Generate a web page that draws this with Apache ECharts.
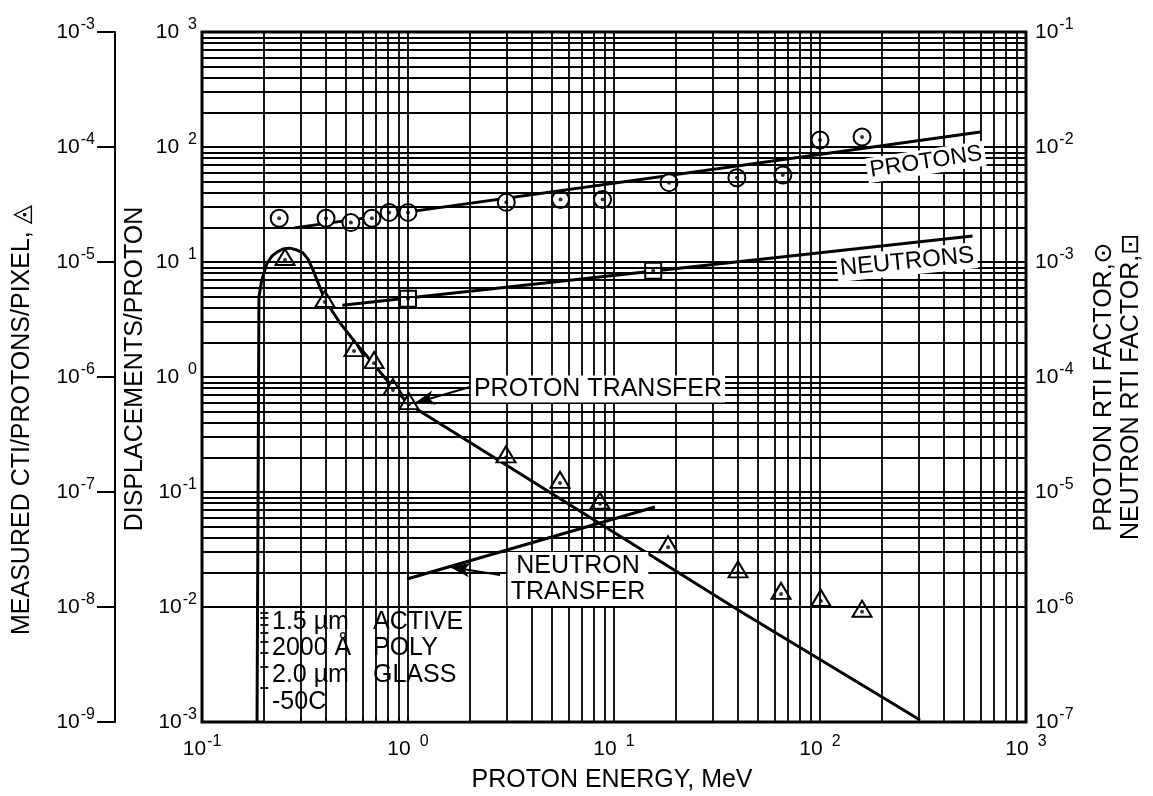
<!DOCTYPE html>
<html>
<head>
<meta charset="utf-8">
<script src="https://cdn.jsdelivr.net/npm/echarts@6/dist/echarts.min.js"></script>
<style>
  html, body { margin: 0; padding: 0; background: #fff; }
  #chart { width: 1153px; height: 796px; }
</style>
</head>
<body>
<div id="chart"></div>
<script>
// ---- measured points -------------------------------------------------
// proton RTI factor (circles, right axis)
const circleEnergy = [0.237, 0.40, 0.528, 0.668, 0.81, 1.0, 3.0, 5.5, 8.8, 18.5, 39.5, 66, 100, 160];
const circleRti    = [2.4e-3, 2.4e-3, 2.2e-3, 2.4e-3, 2.7e-3, 2.7e-3, 3.3e-3, 3.5e-3, 3.5e-3, 4.9e-3, 5.4e-3, 5.7e-3, 1.15e-2, 1.22e-2];
// neutron RTI factor (squares, right axis)
const squareEnergy = [1.0, 15.5];
const squareRti    = [4.8e-4, 8.4e-4];
// measured CTI per proton per pixel (triangles, outer left axis)
const triangleEnergy = [0.253, 0.395, 0.547, 0.684, 0.845, 1.01, 2.99, 5.47, 8.55, 18.3, 40, 64.7, 101, 160];
const triangleCti    = [1.04e-5, 4.5e-6, 1.68e-6, 1.32e-6, 7.7e-7, 5.8e-7, 2.0e-7, 1.2e-7, 7.9e-8, 3.3e-8, 2.0e-8, 1.3e-8, 1.13e-8, 9.1e-9];

// ---- curves (displacements / proton) ---------------------------------
const protonsEnergy = [0.28, 600];
const protonsDisp   = [19.8, 135];
const neutronsEnergy = [0.48, 550];
const neutronsDisp   = [4.2, 16.8];
const pTransferEnergy = [0.185, 0.189, 0.195, 0.207, 0.219, 0.231, 0.247, 0.267, 0.289, 0.309, 0.327, 0.346, 0.395, 0.468, 0.553, 0.668, 0.818, 1.01, 42.3, 306];
const pTransferDisp   = [0.001, 4.96, 6.97, 9.8, 11.3, 12.2, 12.97, 13.2, 12.7, 12.0, 10.6, 8.5, 4.67, 2.95, 2.01, 1.35, 0.869, 0.58, 0.00887, 0.00104];
const nTransferEnergy = [0.99, 15.8];
const nTransferDisp   = [0.0175, 0.0741];

// ---- annotation arrows: [from, to] in (energy, displacements) ---------
const protonArrow  = [[2.0, 0.818], [1.08, 0.594]];
const neutronArrow = [[2.8, 0.019], [1.6, 0.0223]];

// ---- axis ranges -----------------------------------------------------
const energyRange = [0.1, 1000];
const dispRange   = [1e-3, 1e3];
const ctiRange    = [1e-9, 1e-3];
const rtiRange    = [1e-7, 1e-1];
// white inset holding the sample description
const insetEnergy = [0.2, 2];
const insetDisp   = [1e-3, 1e-2];

const FONT = '"Liberation Sans", "DejaVu Sans", Arial, sans-serif';
const pairs = (xs, ys) => xs.map((x, i) => [x, ys[i]]);

// log-paper grid: 1..9 x 10^k in every decade
function decadeLines(lo, hi) {
  const out = [];
  for (let k = Math.round(Math.log10(lo)); k < Math.round(Math.log10(hi)); k++) {
    for (let m = 1; m <= 9; m++) out.push(+(m * Math.pow(10, k)).toPrecision(3));
  }
  out.push(hi);
  return out;
}
const xLines = decadeLines(energyRange[0], energyRange[1]);
const yLines = decadeLines(dispRange[0], dispRange[1]);
const gridLines = xLines.map(v => ({ xAxis: v })).concat(yLines.map(v => ({ yAxis: v })));

// short ticks along the inset's left and bottom edges
const insetTicks = []
  .concat(yLines.filter(v => v > insetDisp[0] && v < insetDisp[1])
    .map(v => [{ coord: [insetEnergy[0] * 0.96, v] }, { coord: [insetEnergy[0] * 1.05, v] }]))
  .concat(xLines.filter(v => v > insetEnergy[0] && v < insetEnergy[1])
    .map(v => [{ coord: [v, insetDisp[0]] }, { coord: [v, insetDisp[0] * 1.1] }]));

function powerLabel(v) {
  const e = Math.round(Math.log10(v));
  return e < 0 ? `{b|10}{s|${e}}` : `{b|10}{p|${e}}`;
}
const powerRich = {
  b: { fontSize: 21, fontFamily: FONT, color: '#000', lineHeight: 30 },
  s: { fontSize: 16, fontFamily: FONT, color: '#000', verticalAlign: 'top', lineHeight: 15, padding: [0, 0, 0, 1] },
  p: { fontSize: 16, fontFamily: FONT, color: '#000', verticalAlign: 'top', lineHeight: 15, padding: [0, 0, 0, 9] }
};

function txt(x, y, text, style, extra) {
  return Object.assign({
    type: 'text', x: x, y: y, z: 100,
    style: Object.assign({ text: text, fill: '#000', font: '25px ' + FONT, align: 'center', verticalAlign: 'middle' }, style || {})
  }, extra || {});
}
const boxed = { backgroundColor: '#fff', padding: [1, 3] };

const chart = echarts.init(document.getElementById('chart'));
chart.setOption({
  animation: false,
  backgroundColor: '#fff',
  grid: { left: 202, right: 127, top: 32, bottom: 74, show: true, borderColor: '#000', borderWidth: 3, backgroundColor: 'transparent' },
  xAxis: {
    type: 'log', logBase: 10, min: energyRange[0], max: energyRange[1], interval: 1,
    axisLine: { show: false }, axisTick: { show: false }, splitLine: { show: false },
    axisLabel: { formatter: powerLabel, rich: powerRich, margin: 12 }
  },
  yAxis: [
    {
      type: 'log', logBase: 10, min: dispRange[0], max: dispRange[1], interval: 1, position: 'left',
      axisLine: { show: false }, axisTick: { show: false }, splitLine: { show: false },
      axisLabel: { formatter: powerLabel, rich: powerRich, margin: 5 }
    },
    {
      type: 'log', logBase: 10, min: ctiRange[0], max: ctiRange[1], interval: 1, position: 'left', offset: 87,
      axisLine: { show: true, lineStyle: { color: '#000', width: 2 } },
      axisTick: { show: true, length: 18, lineStyle: { color: '#000', width: 2 } },
      splitLine: { show: false },
      axisLabel: { formatter: powerLabel, rich: powerRich, margin: 20 }
    },
    {
      type: 'log', logBase: 10, min: rtiRange[0], max: rtiRange[1], interval: 1, position: 'right',
      axisLine: { show: false }, axisTick: { show: false }, splitLine: { show: false },
      axisLabel: { formatter: powerLabel, rich: powerRich, margin: 9 }
    }
  ],
  series: [
    {
      name: 'grid', type: 'line', data: [], z: 1, silent: true,
      markLine: {
        silent: true, symbol: ['none', 'none'], label: { show: false },
        lineStyle: { color: '#000', width: 1.8, type: 'solid' },
        emphasis: { disabled: true }, data: gridLines
      }
    },
    {
      name: 'inset', type: 'line', data: [], z: 2, silent: true,
      markArea: {
        silent: true, itemStyle: { color: '#fff', opacity: 1 },
        data: [[{ coord: [insetEnergy[0] * 1.01, insetDisp[0] * 1.03] }, { coord: [insetEnergy[1] * 0.985, insetDisp[1] * 0.97] }]]
      },
      markLine: {
        silent: true, symbol: ['none', 'none'], label: { show: false },
        lineStyle: { color: '#000', width: 1.8, type: 'solid' },
        emphasis: { disabled: true }, data: insetTicks
      }
    },
    {
      name: 'PROTONS', type: 'line', z: 3, data: pairs(protonsEnergy, protonsDisp),
      symbol: 'none', lineStyle: { color: '#000', width: 3 }
    },
    {
      name: 'NEUTRONS', type: 'line', z: 3, data: pairs(neutronsEnergy, neutronsDisp),
      symbol: 'none', lineStyle: { color: '#000', width: 3 }
    },
    {
      name: 'PROTON TRANSFER', type: 'line', z: 3, data: pairs(pTransferEnergy, pTransferDisp),
      symbol: 'none', lineStyle: { color: '#000', width: 3, join: 'round' }
    },
    {
      name: 'NEUTRON TRANSFER', type: 'line', z: 3, data: pairs(nTransferEnergy, nTransferDisp),
      symbol: 'none', lineStyle: { color: '#000', width: 3 }
    },
    {
      name: 'arrows', type: 'line', data: [], z: 3, silent: true,
      markLine: {
        silent: true, symbol: ['none', 'arrow'], symbolSize: [11, 20], label: { show: false },
        lineStyle: { color: '#000', width: 2, type: 'solid' }, itemStyle: { color: '#000' },
        emphasis: { disabled: true },
        data: [
          [{ coord: protonArrow[0] }, { coord: protonArrow[1] }],
          [{ coord: neutronArrow[0] }, { coord: neutronArrow[1] }]
        ]
      }
    },
    {
      name: 'proton RTI', type: 'scatter', yAxisIndex: 2, z: 4, data: pairs(circleEnergy, circleRti),
      symbol: 'circle', symbolSize: 17, itemStyle: { color: '#fff', borderColor: '#000', borderWidth: 2, opacity: 1 }
    },
    {
      name: 'proton RTI dot', type: 'scatter', yAxisIndex: 2, z: 5, data: pairs(circleEnergy, circleRti),
      symbol: 'circle', symbolSize: 4, itemStyle: { color: '#000' }
    },
    {
      name: 'neutron RTI', type: 'scatter', yAxisIndex: 2, z: 4, data: pairs(squareEnergy, squareRti),
      symbol: 'rect', symbolSize: 16, itemStyle: { color: '#fff', borderColor: '#000', borderWidth: 2, opacity: 1 }
    },
    {
      name: 'neutron RTI dot', type: 'scatter', yAxisIndex: 2, z: 5, data: pairs(squareEnergy, squareRti),
      symbol: 'circle', symbolSize: 4, itemStyle: { color: '#000' }
    },
    {
      name: 'measured CTI', type: 'scatter', yAxisIndex: 1, z: 4, data: pairs(triangleEnergy, triangleCti),
      symbol: 'triangle', symbolSize: [19, 16], symbolOffset: [0, -3],
      itemStyle: { color: '#fff', borderColor: '#000', borderWidth: 2, opacity: 1 }
    },
    {
      name: 'measured CTI dot', type: 'scatter', yAxisIndex: 1, z: 5, data: pairs(triangleEnergy, triangleCti),
      symbol: 'circle', symbolSize: 4, itemStyle: { color: '#000' }
    }
  ],
  graphic: [
    txt(22, 420, 'MEASURED CTI/PROTONS/PIXEL, \u25EC', { font: '25px ' + FONT }, { rotation: Math.PI / 2 }),
    txt(135, 369, 'DISPLACEMENTS/PROTON', { font: '25px ' + FONT }, { rotation: Math.PI / 2 }),
    txt(1104, 387, 'PROTON RTI FACTOR,\u2299', { font: '25px ' + FONT }, { rotation: Math.PI / 2 }),
    txt(1131, 387, 'NEUTRON RTI FACTOR,\u22A1', { font: '25px ' + FONT }, { rotation: Math.PI / 2 }),
    txt(612, 780, 'PROTON ENERGY, MeV', { font: '25px ' + FONT }),
    txt(926, 162, 'PROTONS', Object.assign({ font: '23px ' + FONT }, boxed), { rotation: 0.15 }),
    txt(907, 262, 'NEUTRONS', Object.assign({ font: '24px ' + FONT }, boxed), { rotation: 0.1 }),
    txt(598, 389, 'PROTON TRANSFER', Object.assign({ font: '25px ' + FONT }, boxed)),
    txt(578, 579, 'NEUTRON\nTRANSFER', Object.assign({ font: '25px ' + FONT, lineHeight: 26, align: 'center' }, boxed)),
    txt(272, 622, '1.5 \u00B5m', { align: 'left' }),
    txt(373, 622, 'ACTIVE', { align: 'left' }),
    txt(272, 648, '2000 \u00C5', { align: 'left' }),
    txt(373, 648, 'POLY', { align: 'left' }),
    txt(272, 675, '2.0 \u00B5m', { align: 'left' }),
    txt(373, 675, 'GLASS', { align: 'left' }),
    txt(272, 702, '-50C', { align: 'left' })
  ]
});
</script>
</body>
</html>
